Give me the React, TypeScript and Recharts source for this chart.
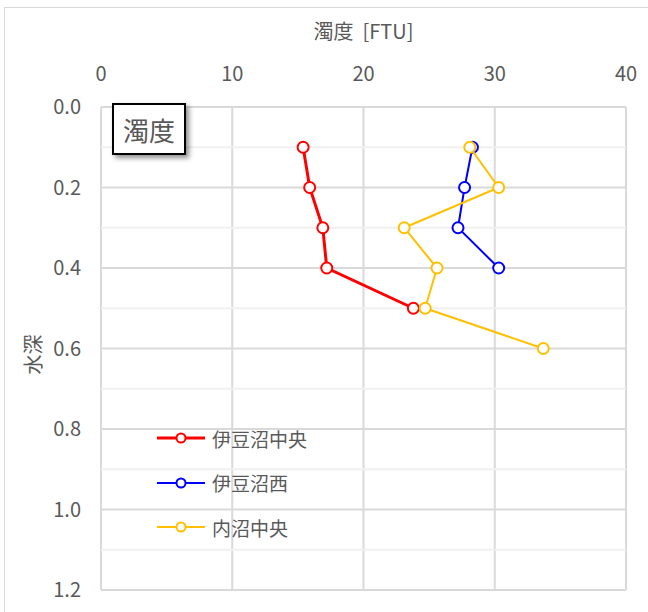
import React from 'react';
import { ScatterChart, Scatter, XAxis, YAxis, CartesianGrid, ReferenceLine, Legend } from 'recharts';

const FONT = '"Noto Sans CJK JP", "Noto Sans", sans-serif';
const GRAY = '#595959';

const xTicks = [0, 10, 20, 30, 40];
const yTicks = [0, 0.2, 0.4, 0.6, 0.8, 1.0, 1.2];
const yMinor = [0.1, 0.3, 0.5, 0.7, 0.9, 1.1];

const depthIzunumaCenter = [0.1, 0.2, 0.3, 0.4, 0.5];
const turbIzunumaCenter = [15.4, 15.9, 16.9, 17.2, 23.8];
const depthIzunumaWest = [0.1, 0.2, 0.3, 0.4];
const turbIzunumaWest = [28.3, 27.7, 27.2, 30.3];
const depthUchinumaCenter = [0.1, 0.2, 0.3, 0.4, 0.5, 0.6];
const turbUchinumaCenter = [28.1, 30.3, 23.1, 25.6, 24.7, 33.7];

const build = (xs: number[], ys: number[]) => xs.map((x, i) => ({ x, y: ys[i] }));

const series = [
  { name: '伊豆沼中央', color: '#ff0000', width: 3, data: build(turbIzunumaCenter, depthIzunumaCenter) },
  { name: '伊豆沼西', color: '#0000ff', width: 2, data: build(turbIzunumaWest, depthIzunumaWest) },
  { name: '内沼中央', color: '#ffc000', width: 2, data: build(turbUchinumaCenter, depthUchinumaCenter) },
];

const makeShape = (color: string) => (props: any) => (
  <circle cx={props.cx} cy={props.cy} r={5.5} fill="#ffffff" stroke={color} strokeWidth={2} />
);

const renderLegend = () => (
  <div style={{ fontFamily: FONT, fontSize: 19, color: GRAY }}>
    {series.map((s) => (
      <div key={s.name} style={{ display: 'flex', alignItems: 'center', height: 44.5 }}>
        <svg width={52} height={20} style={{ display: 'block' }}>
          <line x1={1} y1={10} x2={49} y2={10} stroke={s.color} strokeWidth={s.width} />
          <circle cx={25} cy={10} r={4.5} fill="#ffffff" stroke={s.color} strokeWidth={2} />
        </svg>
        <span style={{ marginLeft: 4 }}>{s.name}</span>
      </div>
    ))}
  </div>
);

const YLabel = (props: any) => {
  const vb = props.viewBox || {};
  const cx = 32;
  const cy = (vb.y ?? 107) + (vb.height ?? 483) / 2 + 6;
  return (
    <text x={cx} y={cy} transform={`rotate(-90 ${cx} ${cy})`} textAnchor="middle" dominantBaseline="central"
      fill={GRAY} fontSize={20} fontFamily={FONT}>水深</text>
  );
};

export default function App() {
  return (
    <div style={{ position: 'absolute', left: 0, top: 0, width: 648, height: 612, background: '#fff', overflow: 'hidden' }}>
      <div style={{ position: 'absolute', left: 4, top: 7, width: 700, height: 700, border: '1.5px solid #d9d9d9', boxSizing: 'border-box' }} />
      <ScatterChart width={648} height={612} margin={{ top: 10, right: 22, bottom: 22, left: 4 }}>
        <CartesianGrid stroke="#d9d9d9" strokeWidth={2} />
        {yMinor.map((v) => (
          <ReferenceLine key={v} y={v} stroke="#f0f0f0" strokeWidth={2} ifOverflow="visible" />
        ))}
        <XAxis
          type="number"
          dataKey="x"
          orientation="top"
          domain={[0, 40]}
          ticks={xTicks}
          height={97}
          axisLine={false}
          tickLine={false}
          tickSize={0}
          tickMargin={26}
          tick={{ fill: GRAY, fontSize: 20, fontFamily: FONT }}
          label={{ value: '濁度\u00a0\u00a0[FTU]', position: 'insideTop', offset: 15, fill: GRAY, fontSize: 20, fontFamily: FONT }}
        />
        <YAxis
          type="number"
          dataKey="y"
          reversed
          domain={[0, 1.2]}
          ticks={yTicks}
          width={97}
          axisLine={false}
          tickLine={false}
          tickSize={0}
          tickMargin={20}
          tickFormatter={(v: number) => v.toFixed(1)}
          tick={{ fill: GRAY, fontSize: 20, fontFamily: FONT }}
          label={<YLabel />}
        />
        {series.map((s) => (
          <Scatter
            key={s.name}
            name={s.name}
            data={s.data}
            line={{ stroke: s.color, strokeWidth: s.width }}
            lineType="joint"
            shape={makeShape(s.color)}
            isAnimationActive={false}
          />
        ))}
        <Legend
          content={renderLegend}
          layout="vertical"
          align="center"
          verticalAlign="middle"
          wrapperStyle={{ left: 156, top: 416, width: 200 }}
        />
      </ScatterChart>
      <div
        style={{
          position: 'absolute', left: 112, top: 103, width: 74, height: 52,
          border: '2px solid #000', boxSizing: 'border-box', background: '#fff',
          boxShadow: '3px 3px 5px rgba(0,0,0,0.45)', display: 'flex', alignItems: 'center', justifyContent: 'center',
          fontFamily: FONT, fontSize: 26, color: GRAY,
        }}
      >
        濁度
      </div>
    </div>
  );
}
